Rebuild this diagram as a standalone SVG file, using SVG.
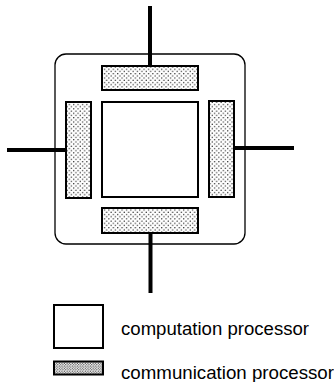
<svg xmlns="http://www.w3.org/2000/svg" width="334" height="382" viewBox="0 0 334 382">
<style>
.frame{fill:#fff;stroke:#000;stroke-width:1.3}
.comp{fill:#fff;stroke:#000;stroke-width:2}
.comm{fill:url(#dots);stroke:#000;stroke-width:2}
.commL{fill:url(#dotsL);stroke:#000;stroke-width:2}
.link{stroke:#000;stroke-width:4;fill:none}
.lbl{font-family:"Liberation Sans",Arial,sans-serif;font-size:17.5px;fill:#000}
</style>
<defs>
<pattern id="dots" width="4.4" height="4.4" patternUnits="userSpaceOnUse">
<rect width="4.4" height="4.4" fill="#fff"/>
<circle cx="1.1" cy="1.1" r="0.7" fill="#222"/>
<circle cx="3.3" cy="3.3" r="0.7" fill="#222"/>
</pattern>
<pattern id="dotsL" width="2.6" height="2.6" patternUnits="userSpaceOnUse">
<rect width="2.6" height="2.6" fill="#fff"/>
<circle cx="0.7" cy="0.7" r="0.6" fill="#222"/>
<circle cx="2" cy="2" r="0.6" fill="#222"/>
</pattern>
</defs>
<rect width="334" height="382" fill="#fff"/>
<g id="node-frame"><rect class="frame" x="55" y="54" width="190" height="190" rx="11"/></g>
<g id="connectors">
<line class="link" x1="150" y1="6" x2="150" y2="66"/>
<line class="link" x1="7" y1="150" x2="66" y2="150"/>
<line class="link" x1="234" y1="148" x2="294" y2="148"/>
<line class="link" x1="150.5" y1="233" x2="150.5" y2="293"/>
</g>
<g id="node-comm-top"><rect class="comm" x="102" y="66" width="96" height="24"/></g>
<g id="node-comm-left"><rect class="comm" x="66" y="102" width="25" height="96"/></g>
<g id="node-computation"><rect class="comp" x="102" y="102" width="96" height="95"/></g>
<g id="node-comm-right"><rect class="comm" x="209" y="101" width="25" height="96"/></g>
<g id="node-comm-bottom"><rect class="comm" x="102" y="208" width="96" height="25"/></g>
<g id="legend">
<rect class="comp" x="54" y="305" width="49" height="43"/>
<text class="lbl" x="121" y="335" textLength="188" lengthAdjust="spacingAndGlyphs">computation processor</text>
<rect class="commL" x="54" y="361.5" width="49" height="13"/>
<text class="lbl" x="121" y="379" textLength="213" lengthAdjust="spacingAndGlyphs">communication processor</text>
</g>
</svg>
